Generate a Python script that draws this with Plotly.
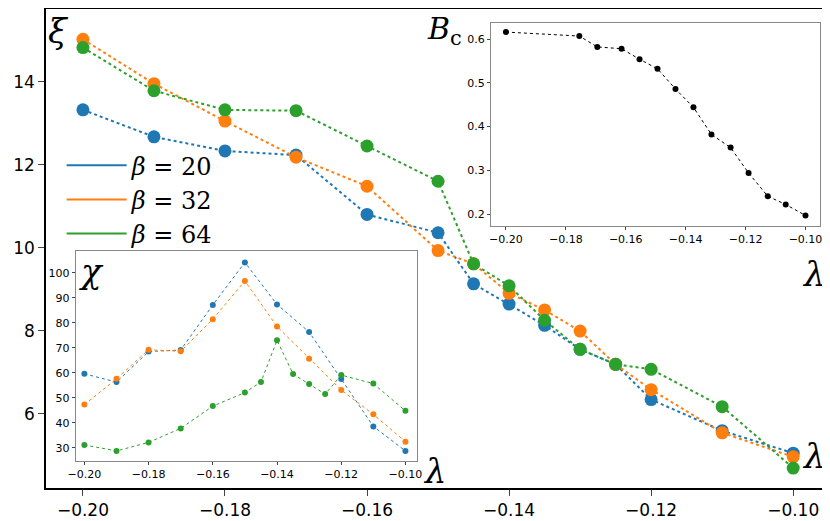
import plotly.graph_objects as go

lam = [-0.20, -0.19, -0.18, -0.17, -0.16, -0.15, -0.145, -0.14, -0.135, -0.13, -0.125, -0.12, -0.11, -0.10]
xi_b20 = [13.32, 12.67, 12.33, 12.23, 10.8, 10.36, 9.13, 8.64, 8.13, 7.55, 7.19, 6.34, 5.59, 5.05]
xi_b32 = [15.02, 13.95, 13.05, 12.18, 11.48, 9.93, 9.61, 8.9, 8.5, 7.99, 7.19, 6.58, 5.54, 4.96]
xi_b64 = [14.82, 13.78, 13.32, 13.3, 12.45, 11.6, 9.61, 9.08, 8.25, 7.55, 7.19, 7.07, 6.17, 4.69]

chi_lam = [-0.20, -0.19, -0.18, -0.17, -0.16, -0.15, -0.14, -0.13, -0.12, -0.11, -0.10]
chi_b20 = [59.6, 56.3, 68.5, 69.1, 87.1, 104.1, 87.3, 76.3, 57.5, 38.6, 28.8]
chi_b32 = [47.3, 57.6, 69.2, 68.6, 81.4, 96.7, 78.5, 65.6, 53.1, 43.4, 32.5]
chi_b64 = [31.2, 28.8, 32.2, 37.8, 46.7, 52.1, 56.3, 73.0, 59.5, 55.5, 51.5, 59.1, 55.7, 44.8]

bc_lam = [-0.20, -0.1755, -0.1695, -0.1614, -0.1554, -0.1494, -0.1434, -0.1374, -0.1314, -0.125, -0.119, -0.1126, -0.1066, -0.10]
bc = [0.616, 0.607, 0.582, 0.578, 0.554, 0.532, 0.486, 0.444, 0.382, 0.352, 0.294, 0.241, 0.222, 0.197]

C = ["#1f77b4", "#ff7f0e", "#2ca02c"]
names = ["<i>β</i> = 20", "<i>β</i> = 32", "<i>β</i> = 64"]

fig = go.Figure()
for ys, c, n in zip([xi_b20, xi_b32, xi_b64], C, names):
    fig.add_trace(go.Scatter(x=lam, y=ys, mode="lines+markers", showlegend=False,
                             line=dict(color=c, dash="dot", width=2),
                             marker=dict(color=c, size=13), xaxis="x", yaxis="y"))
for c, n in zip(C, names):
    fig.add_trace(go.Scatter(x=[None], y=[None], mode="lines", name=n,
                             line=dict(color=c, width=2), xaxis="x", yaxis="y"))
for xs, ys, c in [(chi_lam, chi_b20, C[0]), (chi_lam, chi_b32, C[1]), (lam, chi_b64, C[2])]:
    fig.add_trace(go.Scatter(x=xs, y=ys, mode="lines+markers", showlegend=False,
                             line=dict(color=c, dash="dot", width=1),
                             marker=dict(color=c, size=6), xaxis="x2", yaxis="y2"))
fig.add_trace(go.Scatter(x=bc_lam, y=bc, mode="lines+markers", showlegend=False,
                         line=dict(color="black", dash="dot", width=1),
                         marker=dict(color="black", size=6), xaxis="x3", yaxis="y3"))

ax = dict(showgrid=False, zeroline=False, showline=True, mirror=True, ticks="outside", automargin=False)
tv = [-0.20, -0.18, -0.16, -0.14, -0.12, -0.10]
tt = ["−0.20", "−0.18", "−0.16", "−0.14", "−0.12", "−0.10"]
fig.update_layout(
    width=830, height=521, plot_bgcolor="white", paper_bgcolor="white",
    margin=dict(l=38, r=10, t=1, b=41, autoexpand=False),
    font=dict(family="DejaVu Sans", color="black"),
    xaxis=dict(**ax, domain=[0, 1], range=[-0.2052, -0.0951], tickvals=tv, ticktext=tt,
               linecolor="black", linewidth=1.5, tickfont=dict(size=17), ticklen=6),
    yaxis=dict(**ax, domain=[0, 1], range=[4.21, 15.75], tickvals=[6, 8, 10, 12, 14], linecolor="black", linewidth=1.5,
               tickfont=dict(size=17), ticklen=6),
    xaxis2=dict(**ax, anchor="y2", domain=[0.038, 0.474], range=[-0.2027, -0.0965], tickvals=tv, ticktext=tt,
                linecolor="#888", tickfont=dict(size=11), ticklen=3),
    yaxis2=dict(**ax, anchor="x2", domain=[0.057, 0.494], range=[24.9, 108.5], tickvals=[30, 40, 50, 60, 70, 80, 90, 100],
                linecolor="#888", tickfont=dict(size=11), ticklen=3),
    xaxis3=dict(**ax, anchor="y3", domain=[0.569, 0.990], range=[-0.205, -0.0951], tickvals=tv, ticktext=tt,
                linecolor="#888", tickfont=dict(size=11), ticklen=3),
    yaxis3=dict(**ax, anchor="x3", domain=[0.548, 0.971], range=[0.174, 0.637], tickvals=[0.2, 0.3, 0.4, 0.5, 0.6],
                linecolor="#888", tickfont=dict(size=11), ticklen=3),
    legend=dict(x=0.02, y=0.72, xanchor="left", yanchor="top", bgcolor="rgba(0,0,0,0)",
                font=dict(size=24, family="DejaVu Serif"), itemwidth=60, tracegroupgap=0),
    annotations=[
        dict(text="<i>ξ</i>", xref="paper", yref="paper", x=0.0, y=1.0, xanchor="left", yanchor="top", showarrow=False,
             font=dict(size=34, family="DejaVu Serif")),
        dict(text="<i>λ</i>", xref="paper", yref="paper", x=1.0, y=0.02, xanchor="right", yanchor="bottom", showarrow=False,
             font=dict(size=34, family="DejaVu Serif")),
        dict(text="<i>χ</i>", xref="paper", yref="paper", x=0.04, y=0.50, xanchor="left", yanchor="top", showarrow=False,
             font=dict(size=34, family="DejaVu Serif")),
        dict(text="<i>λ</i>", xref="paper", yref="paper", x=0.48, y=-0.01, xanchor="left", yanchor="bottom", showarrow=False,
             font=dict(size=34, family="DejaVu Serif")),
        dict(text="<i>B</i><sub>c</sub>", xref="paper", yref="paper", x=0.485, y=1.0, xanchor="left", yanchor="top", showarrow=False,
             font=dict(size=30, family="DejaVu Serif")),
        dict(text="<i>λ</i>", xref="paper", yref="paper", x=1.0, y=0.40, xanchor="right", yanchor="bottom", showarrow=False,
             font=dict(size=34, family="DejaVu Serif")),
    ],
)
fig.write_html("out.html")
